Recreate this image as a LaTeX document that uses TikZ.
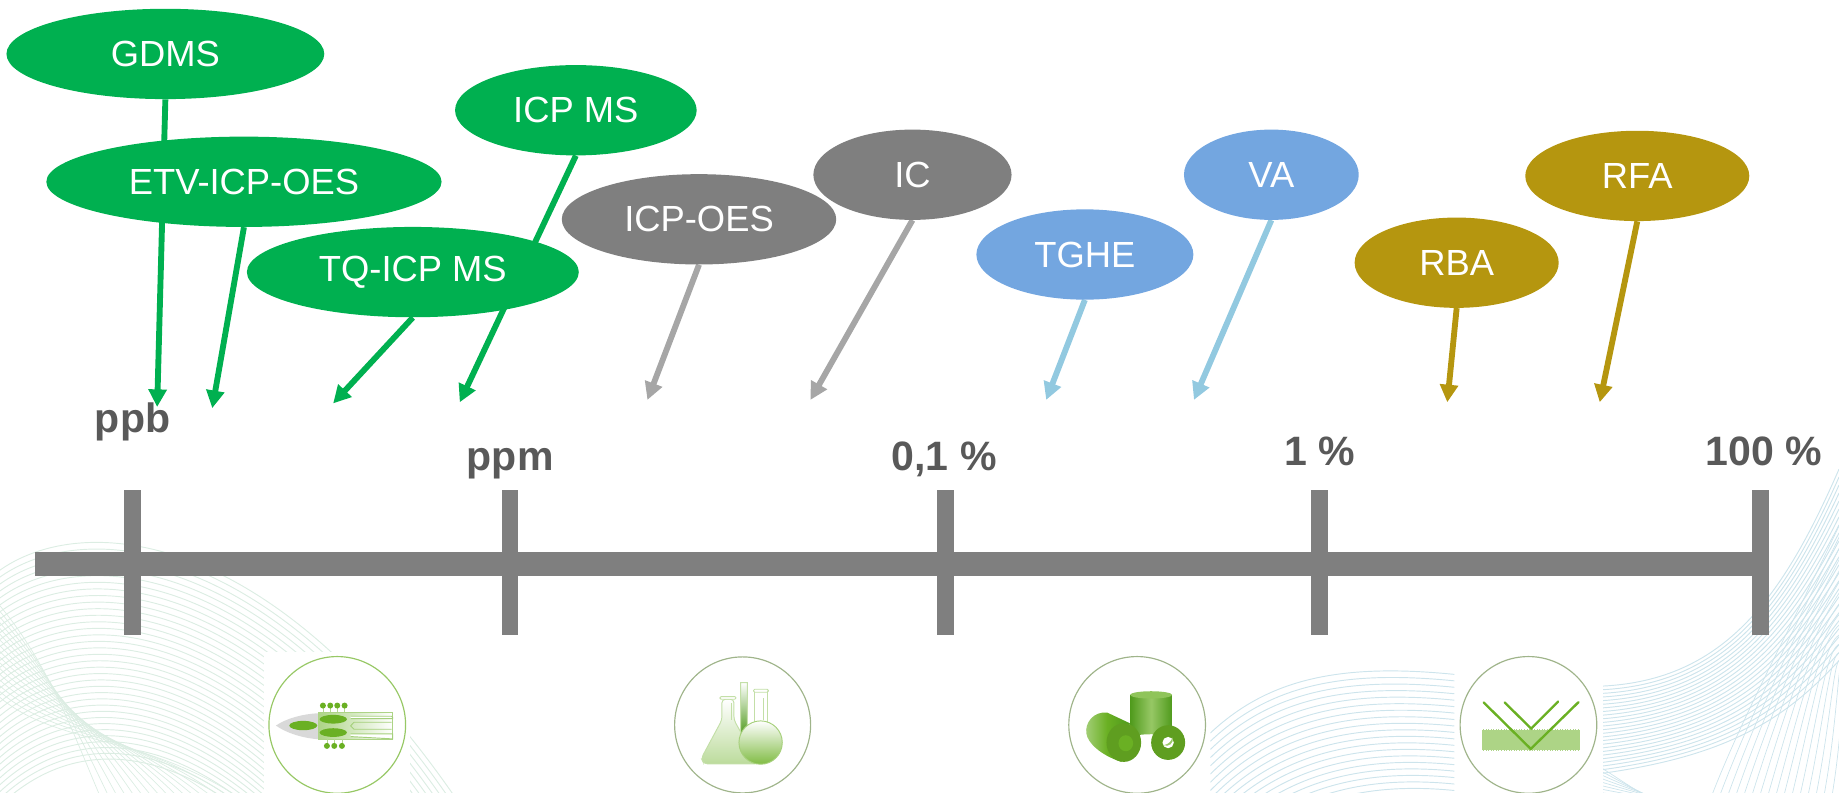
\documentclass[tikz,border=0pt]{standalone}
\usepackage{fontspec}
\setmainfont{Liberation Sans}
\usetikzlibrary{shapes.geometric,arrows.meta}
\pgfdeclarelayer{bg}
\pgfsetlayers{bg,main}
\definecolor{cgreen}{HTML}{00B050}
\definecolor{cgray}{HTML}{7F7F7F}
\definecolor{cgrayarrow}{HTML}{A6A6A6}
\definecolor{cblue}{HTML}{73A6E0}
\definecolor{cbluearrow}{HTML}{92C9E0}
\definecolor{cgold}{HTML}{B5960F}
\definecolor{clabel}{HTML}{595959}
\definecolor{cicon}{HTML}{6AB023}
\definecolor{cicondark}{HTML}{4F9A1C}
\definecolor{wavegreen}{HTML}{DCEDE3}
\definecolor{waveblue}{HTML}{CDE4EC}
\tikzset{
  method/.style={ellipse,inner sep=0pt,text=white,minimum height=77pt,font=\fontsize{31}{31}\selectfont},
  mgreen/.style={method,fill=cgreen},
  mgray/.style={method,fill=cgray},
  mblue/.style={method,fill=cblue},
  mgold/.style={method,fill=cgold},
  conn/.style={line width=5pt,-{Triangle[length=15pt,width=15pt]}},
  tick/.style={line width=14pt,draw=cgray},
  scalelabel/.style={anchor=base,text=clabel,font=\fontsize{35}{35}\selectfont\bfseries},
  iconbox/.style={x=.2842pt,y=-.2842pt},
  wavel/.style={draw=wavegreen,line width=.8pt},
  waveb/.style={draw=waveblue,line width=.8pt},
}
\begin{document}
\begin{tikzpicture}[x=1pt,y=-1pt]
\useasboundingbox (0,0) rectangle (1568,676);
% method ellipses
\node[mgreen,minimum width=271pt] (gdms) at (141,46) {GDMS};
\node[mgreen,minimum width=206pt] (icpms) at (491,94) {ICP MS};
\node[mgray,minimum width=234pt] (icpoes) at (596,187) {ICP-OES};
\node[mgreen,minimum width=337pt] (etv) at (208,155) {ETV-ICP-OES};
\node[mgreen,minimum width=283pt] (tq) at (352,232) {TQ-ICP MS};
\node[mgray,minimum width=169pt] (ic) at (778,149) {IC};
\node[mblue,minimum width=185pt] (tghe) at (925,217) {TGHE};
\node[mblue,minimum width=149pt] (va) at (1084,149) {VA};
\node[mgold,minimum width=174pt] (rba) at (1242,224) {RBA};
\node[mgold,minimum width=191pt] (rfa) at (1396,150) {RFA};
% scale labels
\node[scalelabel] (lppb) at (113,369) {ppb};
\node[scalelabel] (lppm) at (435,401) {ppm};
\node[scalelabel] (l01) at (805,401) {0,1 \%};
\node[scalelabel] (l1) at (1125,397) {1 \%};
\node[scalelabel] (l100) at (1504,397) {100 \%};
% arrow targets
\coordinate (t1) at (134,347);
\coordinate (t2) at (181,348);
\coordinate (t3) at (284,344);
\coordinate (t4) at (392,343);
\coordinate (t5) at (552,341);
\coordinate (t6) at (691,341);
\coordinate (t7) at (892,341);
\coordinate (t8) at (1018,341);
\coordinate (t9) at (1234,343);
\coordinate (t10) at (1364,343);
% axis ends and ticks
\coordinate (a0) at (30,481);
\coordinate (a1) at (1507,481);
\begin{pgfonlayer}{bg}
% --- green waves, left
\begin{scope}
\clip (0,440) rectangle (400,676);
\foreach \i in {0,...,34}{
  \draw[wavel] (-20,505+\i*6) .. controls (30,440+\i*6) and (210-\i*3,415+\i*6) .. (395-\i*5.6,690);
}
\foreach \i in {0,...,16}{
  \draw[wavel,line width=.6pt] (-10,505+\i*5) .. controls (40,560+\i*5) and (60+\i*4,620) .. (90+\i*8,690);
}
\end{scope}
% --- blue waves, middle
\begin{scope}
\clip (1032,560) rectangle (1240,676);
\foreach \i in {0,...,26}{
  \draw[waveb] (1032,625+\i*7) .. controls (1080,580+\i*6.5) and (1140,565+\i*5.5) .. (1240,575+\i*5.5);
}
\end{scope}
% --- blue waves, right
\begin{scope}
\clip (1366,390) rectangle (1568,676);
\foreach \i in {0,...,24}{
  \draw[waveb] (1366,585+\i*3.1) .. controls (1470,580+\i*2.7) and (1520,510+\i*4.4) .. (1568,400+\i*6.8);
}
\foreach \i in {0,...,18}{
  \draw[waveb,line width=.6pt] (1455+\i*7,690) .. controls (1485+\i*6,610) and (1525+\i*3,540) .. (1572,440+\i*10);
}
\foreach \i in {0,...,8}{
  \draw[waveb,line width=.6pt] (1366,655+\i*3) -- (1420+\i*6,690);
}
\end{scope}
% --- axis
\draw[draw=cgray,line width=20pt] (a0) -- (a1);
\foreach \x in {113,435,806,1125,1501}{
  \draw[tick] (\x,418) -- (\x,541);
}
% --- connectors
\draw[conn,draw=cgreen,fill=cgreen] (gdms.south) -- (t1);
\draw[conn,draw=cgreen,fill=cgreen] (etv.south) -- (t2);
\draw[conn,draw=cgreen,fill=cgreen] (tq.south) -- (t3);
\draw[conn,draw=cgreen,fill=cgreen] (icpms.south) -- (t4);
\draw[conn,draw=cgrayarrow,fill=cgrayarrow] (icpoes.south) -- (t5);
\draw[conn,draw=cgrayarrow,fill=cgrayarrow] (ic.south) -- (t6);
\draw[conn,draw=cbluearrow,fill=cbluearrow] (tghe.south) -- (t7);
\draw[conn,draw=cbluearrow,fill=cbluearrow] (va.south) -- (t8);
\draw[conn,draw=cgold,fill=cgold] (rba.south) -- (t9);
\draw[conn,draw=cgold,fill=cgold] (rfa.south) -- (t10);
% --- icon 1: plasma
\fill[white] (225,556) rectangle (350,676);
\begin{scope}[shift={(213.1,545.6)},iconbox]
\draw[draw=cicon!70!white,line width=1pt] (262,255) circle[radius=205];
\fill[black!15] (78,257) .. controls (110,235) and (160,222) .. (205,220) -- (205,298) .. controls (160,295) and (110,280) .. (78,257) -- cycle;
\shade[left color=cicon!55!white,right color=white,draw=cicon!55!white,line width=.8pt] (205,217) rectangle (428,298);
\draw[cicon!60!white,fill=white,line width=.8pt] (302,229) -- (425,229) -- (428,232) -- (428,236) -- (302,236);
\draw[cicon!60!white,fill=white,line width=.8pt] (302,282) -- (428,282) -- (428,297) -- (302,290);
\draw[cicon!60!white,line width=.8pt] (425,247) -- (312,247) -- (302,258) -- (312,268) -- (425,268);
\fill[cicon] (160,257) ellipse[x radius=42,y radius=14];
\fill[cicon] (250,238) ellipse[x radius=41,y radius=13];
\fill[cicon] (250,278) ellipse[x radius=41,y radius=13];
\foreach \x in {219,241,262,284}{
  \draw[cicon!50!white,line width=.4pt] (\x,197) -- (\x,217);
  \fill[cicon] (\x,197) circle[radius=9];
}
\foreach \x in {231,253,276}{
  \draw[cicon!50!white,line width=.4pt] (\x,298) -- (\x,318);
  \fill[cicon] (\x,318) circle[radius=9];
}
\end{scope}
% --- icon 2: flasks
\begin{scope}[shift={(562.7,545.6)},iconbox]
\draw[draw=cicon!60!black!50!white,line width=1pt] (248,255) circle[radius=204];
\shade[top color=white,bottom color=cicon!45!white,draw=cicon!40!white,line width=.8pt,rounded corners=3pt]
  (186,178) -- (186,240) -- (124,355) -- (132,372) -- (295,372) -- (222,240) -- (222,178) -- cycle;
\draw[cicon!40!white,fill=white,line width=.8pt,rounded corners=1pt] (180,170) rectangle (228,178);
\draw[cicon!40!white,line width=.6pt] (213,190) -- (213,240);
\shade[top color=white,bottom color=cicondark,draw=cicon!40!white,line width=.8pt] (242,128) -- (262,128) -- (262,268) -- (242,285) -- cycle;
\draw[cicon!40!white,fill=white,line width=.8pt] (284,155) rectangle (322,250);
\draw[cicon!40!white,line width=.6pt] (309,175) -- (309,240);
\draw[cicon!40!white,fill=white,line width=.8pt,rounded corners=1pt] (281,148) rectangle (325,157);
\shade[top color=white,bottom color=cicon!85!white,draw=cicon!60!white,line width=.8pt] (302,308) circle[radius=65];
\end{scope}
% --- icon 3: cylinders
\begin{scope}[shift={(895.1,545.6)},iconbox]
\draw[draw=cicon!60!black!50!white,line width=1pt] (262,255) circle[radius=205];
\shade[left color=cicondark,right color=cicondark,middle color=cicon!70!white] (241,165) -- (241,295) arc[start angle=180,end angle=360,x radius=63,y radius=12] -- (367,165) -- cycle;
\fill[cicon!75!white] (304,165) ellipse[x radius=63,y radius=11];
\shade[shading angle=30,left color=cicon!60!white,right color=cicondark,middle color=cicon]
  (240,250) -- (172,218) .. controls (130,214) and (104,250) .. (110,282) .. controls (114,308) and (150,345) .. (215,366) -- cycle;
\fill[cicon!90!black] (222,308) ellipse[x radius=52,y radius=58];
\fill[cicon] (228,310) ellipse[x radius=22,y radius=24];
\fill[cicon!90!black] (355,308) ellipse[x radius=51,y radius=52];
\fill[white] (355,308) ellipse[x radius=17,y radius=17];
\fill[cicon!70!white] (368,292) .. controls (364,305) and (358,312) .. (342,316) .. controls (356,322) and (374,310) .. (368,292) -- cycle;
\end{scope}
% --- icon 4: reflection
\fill[white] (1240.5,556) rectangle (1366.5,676);
\begin{scope}[shift={(1227.6,545.6)},iconbox]
\draw[draw=cicon!60!black!50!white,line width=1pt] (266,255) circle[radius=205];
\fill[cicon!55!white] (127,268) rectangle (420,332);
\draw[white,line width=1pt,dash pattern=on .7pt off .7pt] (127,268) -- (420,268);
\draw[white,line width=1pt,dash pattern=on .7pt off .7pt] (127,332) -- (420,332);
\draw[cicon,line width=2pt,line cap=round,line join=miter] (132,188) -- (273,327) -- (416,187);
\draw[cicon,line width=2pt,line cap=round,line join=miter] (195,188) -- (274,266) -- (355,185);
\end{scope}
\end{pgfonlayer}
\end{tikzpicture}
\end{document}
